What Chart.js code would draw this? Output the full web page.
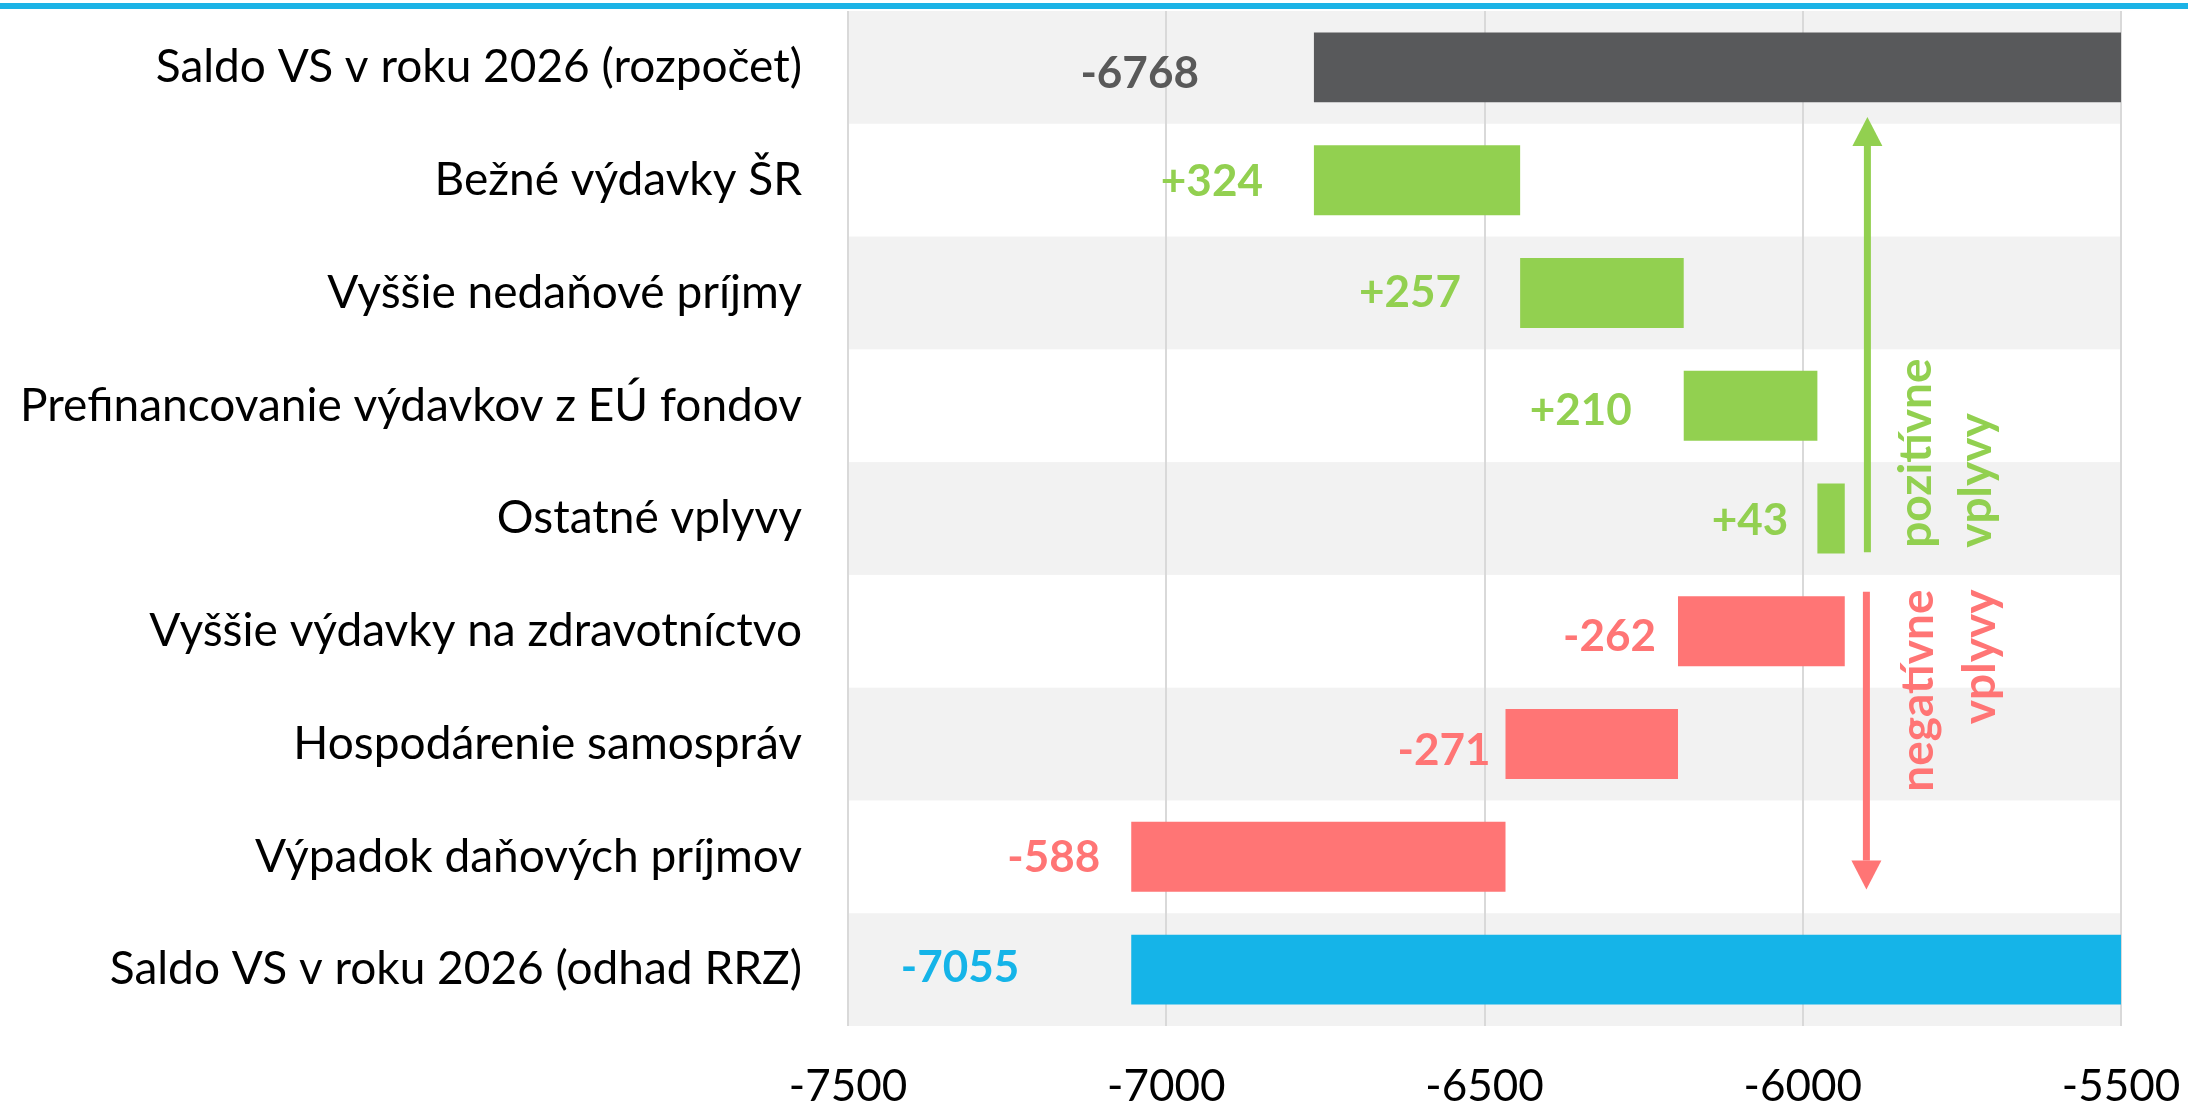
<!DOCTYPE html>
<html>
<head>
<meta charset="utf-8">
<script src="https://cdn.jsdelivr.net/npm/chart.js@4.4.1/dist/chart.umd.min.js"></script>
<style>
  html, body { margin: 0; padding: 0; background: #fff; }
  #wrap { width: 2188px; height: 1110px; }
</style>
</head>
<body>
<div id="wrap"><canvas id="saldoChart" width="2188" height="1110"></canvas></div>
<script>
// --- Saldo VS v roku 2026: rozpočet -> odhad RRZ (vodopád) ---

const categories = [
    'Saldo VS v roku 2026 (rozpočet)',
    'Bežné výdavky ŠR',
    'Vyššie nedaňové príjmy',
    'Prefinancovanie výdavkov z EÚ fondov',
    'Ostatné vplyvy',
    'Vyššie výdavky na zdravotníctvo',
    'Hospodárenie samospráv',
    'Výpadok daňových príjmov',
    'Saldo VS v roku 2026 (odhad RRZ)'
];
const startTotal = -6768;                               // rozpočet
const changes = [324, 257, 210, 43, -262, -271, -588];  // jednotlivé vplyvy
const endTotal = -7055;                                 // odhad RRZ
const xTicks = [-7500, -7000, -6500, -6000, -5500];

// farby
const GRAY = '#58595B', GREEN = '#92D050', RED = '#FF7575', BLUE = '#15B4E8';

// poskladanie plávajúcich stĺpcov (vodopád) z hodnôt
const axisEnd = xTicks[xTicks.length - 1];
const barRanges = [[startTotal, axisEnd]];
const barTexts = [String(startTotal)];
const barColors = [GRAY];
const textColors = ['#595959'];
let level = startTotal;
changes.forEach(c => {
    barRanges.push([level, level + c]);
    barTexts.push((c > 0 ? '+' : '') + c);
    barColors.push(c > 0 ? GREEN : RED);
    textColors.push(c > 0 ? GREEN : RED);
    level += c;
});
barRanges.push([endTotal, axisEnd]);
barTexts.push(String(endTotal));
barColors.push(BLUE);
textColors.push(BLUE);

// pruhované pozadie riadkov + modrá čiara hore
const bandsPlugin = {
    id: 'bands',
    beforeDraw(chart) {
        const { ctx, chartArea: a } = chart;
        const h = (a.bottom - a.top) / categories.length;
        ctx.save();
        ctx.fillStyle = '#F2F2F2';
        for (let i = 0; i < categories.length; i += 2) {
            ctx.fillRect(a.left, a.top + i * h, a.right - a.left, h);
        }
        ctx.fillStyle = '#1CB3E6';
        ctx.fillRect(0, 3, chart.width, 6);
        ctx.restore();
    }
};

// popisky hodnôt vľavo od stĺpca
const labelGap = [115, 51, 59, 52, 29, 22, 15, 31, 112];
const labelDy = [6, 2, 0, 5, 2, 6, 7, 1, -2];
const valueLabelsPlugin = {
    id: 'valueLabels',
    afterDatasetsDraw(chart) {
        const { ctx } = chart;
        const bars = chart.getDatasetMeta(0).data;
        ctx.save();
        ctx.font = 'bold 44px Lato';
        ctx.textAlign = 'right';
        ctx.textBaseline = 'middle';
        bars.forEach((bar, i) => {
            const left = Math.min(bar.x, bar.base);
            ctx.fillStyle = textColors[i];
            ctx.fillText(barTexts[i], left - labelGap[i], bar.y + labelDy[i]);
        });
        ctx.restore();
    }
};

// šípky a zvislé texty (pozitívne / negatívne vplyvy)
function drawArrow(ctx, x, yFrom, yTip, color) {
    const dir = Math.sign(yTip - yFrom);
    const head = 29;
    ctx.strokeStyle = color;
    ctx.lineWidth = 7;
    ctx.beginPath();
    ctx.moveTo(x, yFrom);
    ctx.lineTo(x, yTip - dir * head);
    ctx.stroke();
    ctx.fillStyle = color;
    ctx.beginPath();
    ctx.moveTo(x, yTip);
    ctx.lineTo(x - 15, yTip - dir * head);
    ctx.lineTo(x + 15, yTip - dir * head);
    ctx.closePath();
    ctx.fill();
}
function drawVertical(ctx, text, x, y, align, color) {
    ctx.save();
    ctx.translate(x, y);
    ctx.rotate(-Math.PI / 2);
    ctx.textAlign = align;
    ctx.textBaseline = 'alphabetic';
    ctx.fillStyle = color;
    ctx.fillText(text, 0, 0);
    ctx.restore();
}
const arrowsPlugin = {
    id: 'arrows',
    afterDraw(chart) {
        const { ctx, chartArea: a } = chart;
        const h = (a.bottom - a.top) / categories.length;
        const rowY = t => a.top + t * h;
        const x = chart.scales.x.getPixelForValue(-5900);
        ctx.save();
        drawArrow(ctx, x + 1, rowY(4.80), rowY(0.94), GREEN);
        drawArrow(ctx, x, rowY(5.15), rowY(7.79), RED);
        ctx.font = 'bold 46px Lato';
        drawVertical(ctx, 'pozitívne', x + 65, rowY(4.76), 'left', GREEN);
        drawVertical(ctx, 'vplyvy', x + 125, rowY(4.76), 'left', GREEN);
        drawVertical(ctx, 'negatívne', x + 67, rowY(5.13), 'right', RED);
        drawVertical(ctx, 'vplyvy', x + 129, rowY(5.13), 'right', RED);
        ctx.restore();
    }
};

const ctx = document.getElementById('saldoChart').getContext('2d');
const saldoChart = new Chart(ctx, {
    type: 'bar',
    data: {
        labels: categories,
        datasets: [{
            data: barRanges,
            backgroundColor: barColors,
            borderWidth: 0,
            borderSkipped: false,
            barPercentage: 0.62,
            categoryPercentage: 1.0
        }]
    },
    options: {
        indexAxis: 'y',
        responsive: false,
        devicePixelRatio: 1,
        animation: false,
        layout: { padding: { top: 11, right: 67, left: 0, bottom: 0 } },
        plugins: {
            legend: { display: false },
            tooltip: { enabled: false }
        },
        scales: {
            x: {
                min: xTicks[0],
                max: axisEnd,
                afterBuildTicks: s => { s.ticks = xTicks.map(v => ({ value: v })); },
                afterFit: s => { s.height = 84; s.paddingLeft = 0; s.paddingRight = 0; },
                grid: { color: '#D9D9D9', lineWidth: 2, drawTicks: false },
                border: { display: false },
                ticks: {
                    color: '#000',
                    font: { family: 'Lato', size: 44 },
                    padding: 34,
                    maxRotation: 0,
                    callback: v => String(v)
                }
            },
            y: {
                afterFit: s => { s.width = 848; s.paddingTop = 0; s.paddingBottom = 0; },
                grid: { display: false, drawTicks: false },
                border: { display: false },
                ticks: {
                    color: '#000',
                    font: { family: 'Lato', size: 46 },
                    padding: 46,
                    autoSkip: false
                }
            }
        }
    },
    plugins: [bandsPlugin, valueLabelsPlugin, arrowsPlugin]
});
</script>
</body>
</html>
